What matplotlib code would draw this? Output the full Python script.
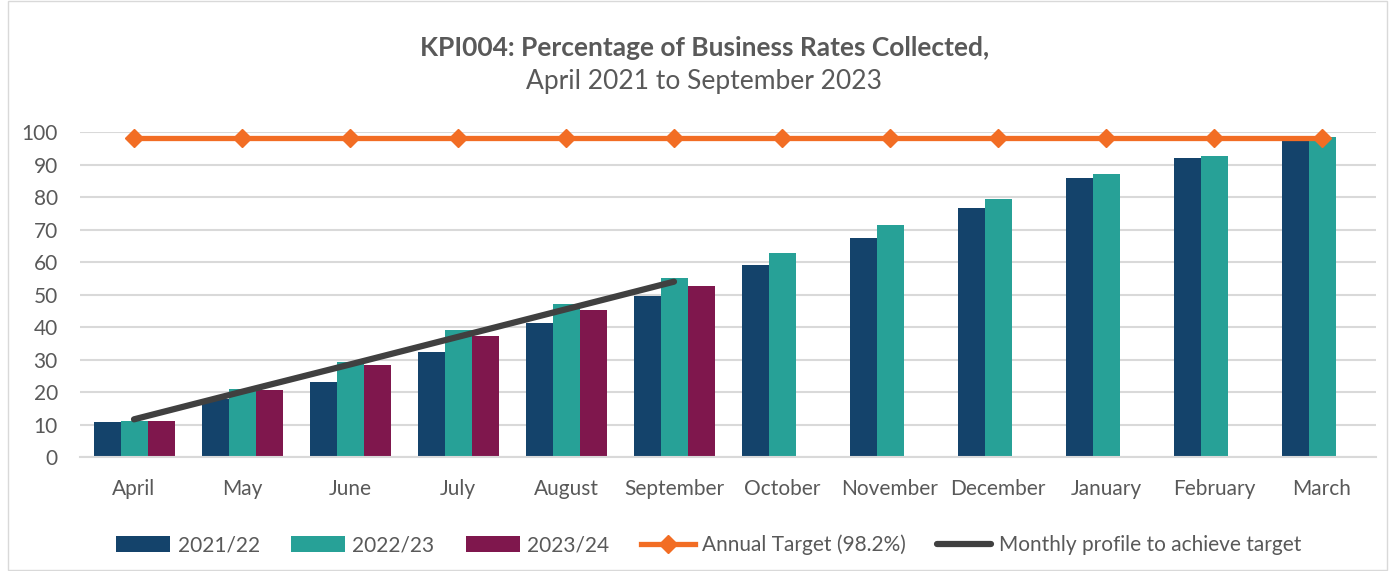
import numpy as np
import matplotlib
matplotlib.use("Agg")
import matplotlib.pyplot as plt
from matplotlib.patches import Rectangle

plt.rcParams['font.family'] = ['Lato', 'DejaVu Sans']

months = ["April", "May", "June", "July", "August", "September",
          "October", "November", "December", "January", "February", "March"]

y2021 = [10.7, 17.9, 23.0, 32.3, 41.2, 49.6, 59.1, 67.4, 76.7, 85.9, 92.1, 97.6]
y2022 = [11.0, 20.9, 29.3, 39.1, 47.1, 55.1, 62.8, 71.4, 79.4, 87.2, 92.7, 98.6]
y2023 = [11.0, 20.6, 28.3, 37.2, 45.2, 52.6] + [np.nan] * 6
annual_target = [98.2] * 12
monthly_profile = [11.6, 20.1, 28.5, 37.0, 45.5, 54.0]

c21 = "#14436b"
c22 = "#27a197"
c23 = "#7f174d"
c_target = "#f26d24"
c_profile = "#404040"
txt = "#595959"

fig = plt.figure(figsize=(13.95, 5.71), dpi=100)
ax = fig.add_axes([80 / 1395, 1 - 457 / 571, (1376 - 80) / 1395, (457 - 132.3) / 571])

x = np.arange(len(months))
w = 0.25
b1 = ax.bar(x - w, y2021, w, color=c21, label="2021/22", zorder=2)
b2 = ax.bar(x, y2022, w, color=c22, label="2022/23", zorder=2)
b3 = ax.bar(x + w, y2023, w, color=c23, label="2023/24", zorder=2)

l1, = ax.plot(x, annual_target, color=c_target, lw=3.8, marker="D", markersize=9,
              label="Annual Target (98.2%)", zorder=4, clip_on=False)
l2, = ax.plot(x[:len(monthly_profile)], monthly_profile, color=c_profile, lw=4.5,
              solid_capstyle="round", label="Monthly profile to achieve target", zorder=3)

ax.set_xlim(-0.5, len(months) - 0.5)
ax.set_ylim(0, 100)
ax.set_yticks(range(0, 101, 10))
ax.set_xticks(x)
ax.set_xticklabels(months)
ax.tick_params(axis="both", length=0, labelsize=15, labelcolor=txt)
ax.tick_params(axis="x", pad=16)
ax.tick_params(axis="y", pad=16)
ax.grid(axis="y", color="#d9d9d9", lw=1.5, zorder=0)
ax.set_axisbelow(True)
for s in ["top", "right", "left"]:
    ax.spines[s].set_visible(False)
ax.spines["bottom"].set_color("#d9d9d9")
ax.spines["bottom"].set_linewidth(1.5)

fig.text(0.505, 1 - 48 / 571, "KPI004: Percentage of Business Rates Collected,",
         ha="center", va="center", fontsize=19, fontweight="bold", color=txt)
fig.text(0.505, 1 - 82 / 571, "April 2021 to September 2023",
         ha="center", va="center", fontsize=19, color=txt)

fig.legend([b1, b2, b3, l1, l2],
           ["2021/22", "2022/23", "2023/24", "Annual Target (98.2%)",
            "Monthly profile to achieve target"],
           loc="center", bbox_to_anchor=(0.508, 1 - 545 / 571), ncol=5,
           frameon=False, fontsize=15, labelcolor=txt, handlelength=2.6,
           handleheight=0.75, handletextpad=0.35, columnspacing=1.5)

fig.patches.append(Rectangle((8 / 1395, 0.002), 1 - 16 / 1395, 0.996,
                             transform=fig.transFigure, fill=False,
                             edgecolor="#d9d9d9", lw=1))

fig.savefig("out.png", dpi=100)
